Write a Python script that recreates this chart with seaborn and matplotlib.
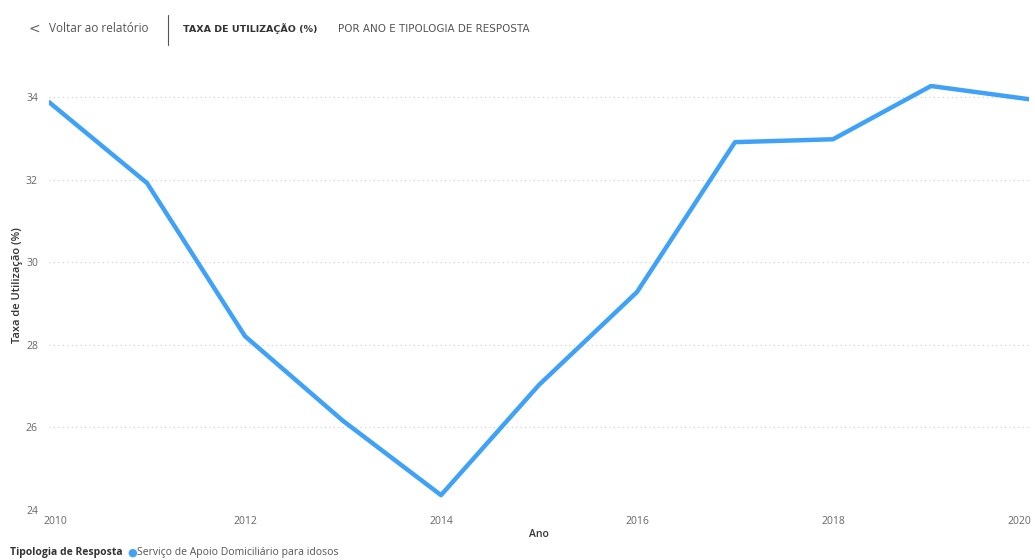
import seaborn as sns
import matplotlib.pyplot as plt
import matplotlib.transforms as mtransforms
import pandas as pd

anos = [2010, 2011, 2012, 2013, 2014, 2015, 2016, 2017, 2018, 2019, 2020]
taxa = [33.88, 31.92, 28.21, 26.16, 24.36, 27.03, 29.28, 32.91, 32.98, 34.27, 33.95]
tipologia = 'Serviço de Apoio Domiciliário para idosos'
yticks = [24, 26, 28, 30, 32, 34]
xticks = [2010, 2012, 2014, 2016, 2018, 2020]

df = pd.DataFrame({'Ano': anos, 'Taxa': taxa, 'Tipologia de Resposta': tipologia})

sns.set_style('white')
plt.rcParams['font.family'] = ['Open Sans', 'DejaVu Sans']
azul = '#3fa2f7'

fig = plt.figure(figsize=(10.35, 5.6), dpi=100)
ax = fig.add_axes([49 / 1035, 1 - 510 / 560, 980 / 1035, 450 / 560])

sns.lineplot(data=df, x='Ano', y='Taxa', color=azul, linewidth=3.2, legend=False, ax=ax,
             solid_capstyle='round')

ax.set_xlim(2010, 2020)
ax.set_ylim(24, 34.9)
ax.set_yticks(yticks)
ax.set_xticks(xticks)
ax.set_xticklabels([str(t) for t in xticks])
ax.tick_params(axis='both', length=0, labelsize=7.5, labelcolor='#666666')
ax.tick_params(axis='y', pad=8)
ax.tick_params(axis='x', pad=4)
for s in ax.spines.values():
    s.set_visible(False)
ax.grid(axis='y', linestyle=(0, (1, 3)), color='#cccccc', linewidth=0.8)
ax.grid(axis='x', visible=False)

# end labels pulled inward a little, like the original
labs = ax.get_xticklabels()
labs[0].set_transform(labs[0].get_transform() + mtransforms.ScaledTranslation(6 / 100, 0, fig.dpi_scale_trans))
labs[-1].set_transform(labs[-1].get_transform() + mtransforms.ScaledTranslation(-10 / 100, 0, fig.dpi_scale_trans))

ax.set_xlabel('Ano', fontsize=7.5, color='#333333', fontweight='semibold', labelpad=2)
ax.set_ylabel('Taxa de Utilização (%)', fontsize=8, color='#333333', fontweight='semibold',
              labelpad=2)

# header
fig.text(28 / 1035, 1 - 29 / 560, '<', fontsize=10, color='#666666', va='center',
         family='DejaVu Sans')
fig.text(49 / 1035, 1 - 29 / 560, 'Voltar ao relatório', fontsize=8.5, color='#555555',
         va='center')
fig.add_artist(plt.Line2D([168 / 1035, 168 / 1035], [1 - 15 / 560, 1 - 45 / 560],
                          color='#555555', linewidth=0.8))
fig.text(183 / 1035, 1 - 29 / 560, 'TAXA DE UTILIZAÇÃO (%)', fontsize=6.8, color='#333333',
         va='center', fontweight='bold', family='DejaVu Sans')
fig.text(338 / 1035, 1 - 29 / 560, 'POR ANO E TIPOLOGIA DE RESPOSTA', fontsize=7.5,
         color='#555555', va='center', family='DejaVu Sans')

# legend
fig.text(10 / 1035, 1 - 553 / 560, 'Tipologia de Resposta', fontsize=7.5, color='#333333',
         va='center', fontweight='bold')
fig.text(127 / 1035, 1 - 553 / 560, '●', fontsize=8, color=azul, va='center',
         family='DejaVu Sans')
fig.text(137 / 1035, 1 - 553 / 560, tipologia, fontsize=7.5, color='#555555', va='center')

plt.savefig('out.png', dpi=100)
